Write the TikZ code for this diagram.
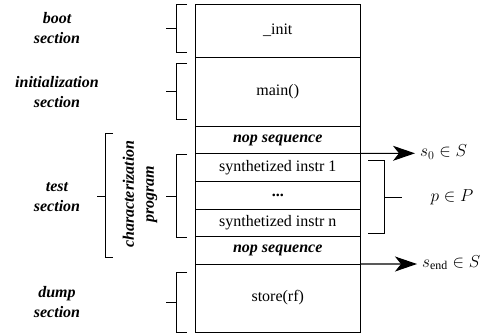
\documentclass[tikz,border=0pt]{standalone}
\usepackage{fontspec}
\setmainfont{Liberation Serif}
\usetikzlibrary{arrows.meta}
\begin{document}
\begin{tikzpicture}[x=1pt,y=-1pt,
  cell/.style={draw, line width=1pt, minimum width=164.5pt, inner sep=0pt,
    outer sep=0pt, anchor=north, font=\fontsize{16}{20}\selectfont},
  sectlabel/.style={align=center, inner sep=0pt,
    font=\fontsize{16}{20}\selectfont\bfseries\itshape},
  mathlabel/.style={inner sep=0pt, font=\fontsize{17}{20}\selectfont},
  bracket/.style={draw, line width=1pt},
  statelink/.style={draw, line width=1.1pt, -{Stealth[length=22pt, width=15pt, inset=6pt]}}]

\useasboundingbox (0,0) rectangle (487,335);

% memory layout, stacked from the top
\node[cell, minimum height=53pt]   (init)   at (277.75,4) {\_init};
\node[cell, minimum height=69.7pt] (main)   at (init.south) {main()};
\node[cell, minimum height=26.6pt] (nopA)   at (main.south) {\textbf{\textit{nop sequence}}};
\node[cell, minimum height=28.4pt] (instrA) at (nopA.south) {synthetized instr 1};
\node[cell, minimum height=27.6pt] (dots)   at (instrA.south) {\textbf{...}};
\node[cell, minimum height=27.4pt] (instrN) at (dots.south) {synthetized instr n};
\node[cell, minimum height=27.3pt] (nopB)   at (instrN.south) {\textbf{\textit{nop sequence}}};
\node[cell, minimum height=68pt]   (store)  at (nopB.south) {store(rf)};

% section names
\node[sectlabel] (boot)  at (57,28)  {boot\\section};
\node[sectlabel] (initl) at (57,92)  {initialization\\section};
\node[sectlabel] (test)  at (57,197) {test\\section};
\node[sectlabel] (dump)  at (57,302) {dump\\section};
\node[sectlabel, rotate=90] (charprog) at (140,194) {characterization\\program};

% brackets
\draw[bracket] (187,4) -- (176,4) -- (176,52) -- (187,52) (176,28) -- (166,28);
\draw[bracket] (187,63) -- (176,63) -- (176,119) -- (187,119) (176,91) -- (166,91);
\draw[bracket] (113,133) -- (105.5,133) -- (105.5,257.5) -- (113,257.5) (105.5,196) -- (97,196);
\draw[bracket] (187,154) -- (176.5,154) -- (176.5,237) -- (187,237) (176.5,196) -- (166,196);
\draw[bracket] (187,272) -- (176,272) -- (176,332) -- (187,332) (176,302) -- (166,302);
\draw[bracket] (368,160) -- (384,160) -- (384,233) -- (368,233) (384,197) -- (402,197);

% sampled states and program
\coordinate (s0tip) at (415,153.3);
\coordinate (sEtip) at (417,264);
\node[mathlabel, anchor=west, yshift=1.5pt] (s0) at ([xshift=5pt]s0tip) {$s_0 \in S$};
\node[mathlabel, anchor=west, yshift=1.5pt] (sE) at ([xshift=5pt]sEtip) {$s_{\mathrm{end}} \in S$};
\node[mathlabel] (pP) at (452,197) {$p \in P$};
\draw[statelink] (nopA.south east) -- (s0tip);
\draw[statelink] (nopB.south east) -- (sEtip);
\end{tikzpicture}
\end{document}
